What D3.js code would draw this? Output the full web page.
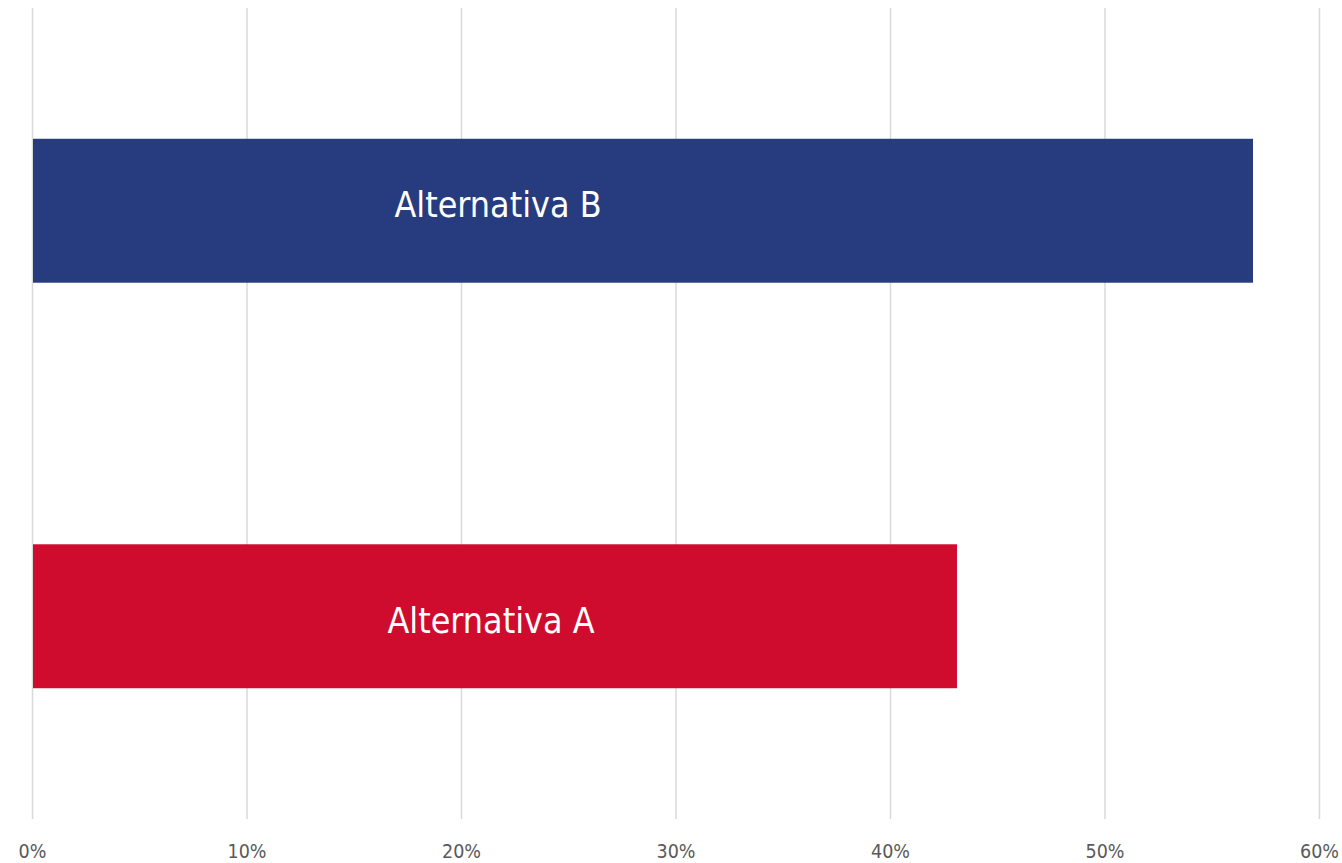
<!DOCTYPE html>
<html>
<head>
<meta charset="utf-8">
<script src="https://cdn.jsdelivr.net/npm/d3@7"></script>
<style>
  html, body { margin: 0; padding: 0; background: #fff; }
  svg { display: block; }
</style>
</head>
<body>
<svg id="chart" width="1342" height="863"></svg>
<script>
const categories = ["Alternativa A", "Alternativa B"];
const values = [43.1, 56.9];
const colors = ["#D00C2E", "#273B7F"];
const tickValues = [0, 10, 20, 30, 40, 50, 60];
const tickLabels = ["0%", "10%", "20%", "30%", "40%", "50%", "60%"];

(function () {
const svg = d3.select("#chart");
const mLeft = 32.5, mRight = 1319.5, mTop = 8, mBottom = 819;

const x = d3.scaleLinear().domain([0, 60]).range([mLeft, mRight]);
const y = d3.scaleBand().domain(categories.slice().reverse()).range([mTop, mBottom])
  .paddingInner(0.645).paddingOuter(0.3225);

// gridlines
svg.append("g").selectAll("line").data(tickValues).join("line")
  .attr("x1", d => x(d)).attr("x2", d => x(d))
  .attr("y1", mTop).attr("y2", mBottom)
  .attr("stroke", "#d9d9d9").attr("stroke-width", 1.5);

// bars
svg.append("g").selectAll("rect").data(categories).join("rect")
  .attr("x", x(0) + 0.5)
  .attr("y", d => y(d))
  .attr("width", (d, i) => x(values[i]) - x(0) - 0.5)
  .attr("height", y.bandwidth())
  .attr("fill", (d, i) => colors[i]);

// labels inside bars
const labelDx = [491 - 32.5, 498 - 32.5];
const labelDy = [17, 6];
svg.append("g").selectAll("text").data(categories).join("text")
  .attr("x", (d, i) => x(0) + labelDx[i])
  .attr("y", (d, i) => y(d) + y.bandwidth() / 2 + labelDy[i])
  .attr("text-anchor", "middle")
  .attr("fill", "#ffffff")
  .attr("font-family", "'DejaVu Sans Condensed', 'DejaVu Sans', sans-serif")
  .attr("font-size", 35.5)
  .text(d => d);

// x axis tick labels
svg.append("g").selectAll("text").data(tickValues).join("text")
  .attr("x", d => x(d))
  .attr("y", 858)
  .attr("text-anchor", "middle")
  .attr("fill", "#595959")
  .attr("font-family", "'DejaVu Sans Condensed', 'DejaVu Sans', sans-serif")
  .attr("font-size", 19.5)
  .text((d, i) => tickLabels[i]);
})();
</script>
</body>
</html>
